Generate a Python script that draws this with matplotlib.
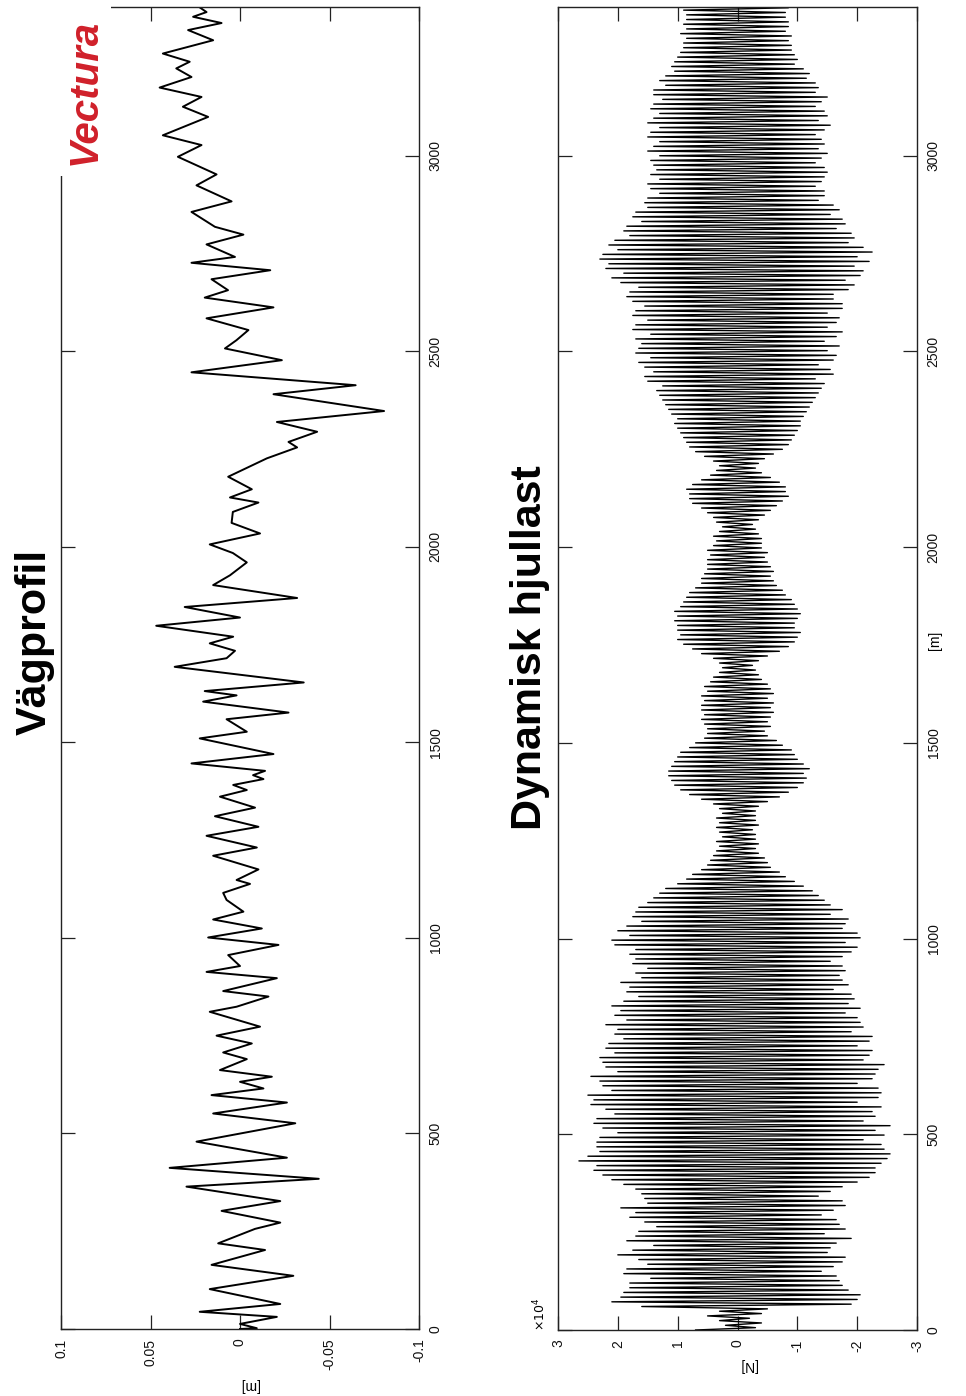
import numpy as np
import matplotlib
matplotlib.use("Agg")
import matplotlib.pyplot as plt
from matplotlib.patches import Rectangle

plt.rcParams['font.family'] = ['Liberation Sans', 'DejaVu Sans']
plt.rcParams['axes.unicode_minus'] = False

W, H = 966, 1396

# Road profile: (distance [m], height [m])
profile_dist = [0, 2, 13, 31, 44, 64, 102, 136, 164, 202, 219, 256, 272, 302, 327,
                364, 384, 412, 438, 479, 526, 551, 579, 598, 615, 632, 645, 662,
                690, 707, 730, 750, 773, 811, 824, 850, 864, 897, 913, 928, 956,
                982, 1001, 1024, 1047, 1067, 1097, 1115, 1138, 1148, 1175, 1210,
                1231, 1261, 1284, 1311, 1333, 1361, 1378, 1391, 1406, 1416, 1427,
                1446, 1470, 1510, 1527, 1559, 1576, 1604, 1620, 1631, 1653, 1693,
                1715, 1734, 1753, 1770, 1798, 1819, 1846, 1869, 1902, 1927, 1960,
                1984, 2006, 2034, 2061, 2089, 2113, 2126, 2147, 2179, 2226, 2254,
                2268, 2294, 2319, 2347, 2390, 2413, 2446, 2477, 2507, 2528, 2554,
                2584, 2612, 2637, 2656, 2684, 2707, 2726, 2741, 2773, 2798, 2818,
                2856, 2883, 2924, 2952, 2997, 3027, 3052, 3099, 3125, 3150, 3174,
                3201, 3223, 3240, 3261, 3295, 3321, 3339, 3355, 3367, 3379]
profile_height = [0.0, -0.0094, 0.0, -0.0206, 0.0225, -0.0225, 0.0169, -0.0298,
                  0.0159, -0.0140, 0.0122, -0.0084, -0.0225, 0.0103, -0.0225,
                  0.0299, -0.0440, 0.0393, -0.0262, 0.0243, -0.0309, 0.0150,
                  -0.0262, 0.0159, -0.0131, 0.0, -0.0178, 0.0112, -0.0038, 0.0094,
                  -0.0066, 0.0131, -0.0112, 0.0169, 0.0019, -0.0159, 0.0094,
                  -0.0206, 0.0187, 0.0, 0.0066, -0.0215, 0.0178, -0.0122, 0.0150,
                  -0.0019, 0.0075, 0.0094, -0.0056, 0.0019, -0.0103, 0.0150,
                  -0.0094, 0.0187, -0.0103, 0.0140, -0.0084, 0.0112, -0.0038,
                  0.0038, -0.0131, -0.0073, -0.0140, 0.0271, -0.0187, 0.0225,
                  -0.0038, 0.0075, -0.0271, 0.0206, 0.0019, 0.0197, -0.0356,
                  0.0365, 0.0075, 0.0028, 0.0169, 0.0038, 0.0468, 0.0, 0.0309,
                  -0.0319, 0.0150, 0.0056, -0.0038, 0.0040, 0.0169, -0.0112,
                  0.0047, 0.0040, -0.0103, 0.0056, -0.0066, 0.0066, -0.0150,
                  -0.0319, -0.0271, -0.0431, -0.0206, -0.0805, -0.0187, -0.0646,
                  0.0271, -0.0234, 0.0084, 0.0020, -0.0047, 0.0187, -0.0187,
                  0.0197, 0.0067, 0.0159, -0.0169, 0.0271, 0.0028, 0.0187,
                  -0.0019, 0.0140, 0.0271, 0.0047, 0.0243, 0.0131, 0.0347, 0.0215,
                  0.0431, 0.0178, 0.0319, 0.0215, 0.0449, 0.0271, 0.0356, 0.0281,
                  0.0431, 0.0150, 0.0290, 0.0103, 0.0262, 0.0187, 0.0225]

# Dynamic wheel load: successive extremes [x10^4 N], one every load_step_m metres
load_step_m = 6.0
load_peaks = [
    0.7, -0.3, 0.2, -0.4, 0.3, -0.2, 0.5, -0.4, 0.3, -0.5, 1.6, -1.9, 2.1, -2.0, 1.95, -2.05, 1.9, -1.85, 1.8, -1.75,
    1.8, -1.7, 1.45, -1.65, 1.9, -1.4, 1.85, -1.6, 1.5, -1.75, 1.65, -1.8, 2.0, -1.5, 1.75, -1.55, 1.4, -1.65, 1.85, -1.9,
    1.7, -1.45, 1.65, -1.8, 1.35, -1.7, 1.55, -1.65, 1.8, -1.4, 1.7, -1.6, 1.95, -1.8, 1.5, -1.75, 1.55, -1.35, 1.6, -1.55,
    1.7, -1.75, 1.9, -2.0, 2.1, -2.2, 2.25, -2.3, 2.4, -2.3, 2.35, -2.4, 2.65, -2.5, 2.5, -2.55, 2.3, -2.45, 2.35, -2.4,
    2.35, -2.1, 2.3, -2.45, 2.0, -2.3, 2.25, -2.55, 2.4, -2.1, 2.35, -2.3, 2.05, -2.25, 2.2, -2.4, 2.45, -2.0, 2.4, -2.35,
    2.5, -2.4, 2.1, -2.35, 2.25, -2.0, 2.3, -2.25, 2.45, -2.3, 2.0, -2.35, 2.2, -2.45, 2.25, -2.1, 2.3, -2.2, 2.05, -2.25,
    2.2, -2.0, 2.15, -2.2, 1.9, -2.25, 2.05, -1.9, 2.0, -2.1, 2.2, -2.05, 1.85, -2.0, 2.05, -1.8, 1.95, -2.05, 2.1, -1.85,
    1.9, -1.95, 1.65, -1.9, 1.85, -1.6, 1.8, -1.85, 1.95, -1.75, 1.6, -1.7, 1.7, -1.8, 1.5, -1.75, 1.75, -1.55, 1.7, -1.75,
    1.8, -1.9, 1.7, -2.0, 2.05, -1.8, 2.1, -2.05, 1.8, -2.0, 2.0, -1.75, 1.85, -1.8, 1.6, -1.85, 1.75, -1.55, 1.7, -1.75,
    1.65, -1.55, 1.5, -1.45, 1.4, -1.35, 1.3, -1.25, 1.2, -1.1, 1.0, -0.95, 0.85, -0.8, 0.75, -0.7, 0.6, -0.55, 0.5, -0.5,
    0.45, -0.45, 0.4, -0.35, 0.35, -0.3, 0.3, -0.35, 0.35, -0.3, 0.25, -0.3, 0.3, -0.25, 0.35, -0.35, 0.3, -0.3, 0.35, -0.3,
    0.25, -0.3, 0.3, -0.35, 0.4, -0.5, 0.6, -0.7, 0.8, -0.85, 0.95, -1.0, 1.05, -1.1, 1.1, -1.15, 1.15, -1.1, 1.15, -1.2,
    1.1, -1.1, 1.05, -1.0, 1.0, -0.95, 0.95, -0.9, 0.8, -0.75, 0.7, -0.65, 0.55, -0.5, 0.5, -0.45, 0.5, -0.55, 0.55, -0.5,
    0.6, -0.55, 0.55, -0.6, 0.6, -0.55, 0.6, -0.6, 0.55, -0.5, 0.6, -0.6, 0.5, -0.55, 0.55, -0.5, 0.45, -0.4, 0.4, -0.35,
    0.3, -0.3, 0.25, -0.25, 0.3, -0.35, 0.4, -0.5, 0.6, -0.7, 0.75, -0.85, 0.9, -0.95, 1.0, -1.0, 0.95, -1.05, 1.0, -0.95,
    1.0, -0.95, 1.05, -1.0, 1.0, -1.05, 1.05, -1.0, 0.95, -0.95, 0.9, -0.9, 0.85, -0.8, 0.8, -0.75, 0.7, -0.65, 0.6, -0.6,
    0.6, -0.55, 0.55, -0.6, 0.5, -0.55, 0.5, -0.5, 0.5, -0.45, 0.45, -0.5, 0.5, -0.4, 0.4, -0.4, 0.35, -0.4, 0.4, -0.35,
    0.3, -0.3, 0.25, -0.25, 0.35, -0.35, 0.4, -0.45, 0.5, -0.55, 0.6, -0.65, 0.75, -0.75, 0.8, -0.85, 0.8, -0.8, 0.85, -0.8,
    0.75, -0.7, 0.6, -0.55, 0.45, -0.4, 0.35, -0.3, 0.3, -0.35, 0.4, -0.45, 0.55, -0.6, 0.7, -0.75, 0.8, -0.85, 0.85, -0.9,
    0.9, -0.95, 0.95, -1.0, 1.0, -1.05, 1.05, -1.05, 1.0, -1.1, 1.1, -1.15, 1.15, -1.2, 1.2, -1.25, 1.25, -1.3, 1.3, -1.35,
    1.35, -1.4, 1.25, -1.45, 1.5, -1.3, 1.55, -1.6, 1.4, -1.55, 1.55, -1.35, 1.65, -1.6, 1.45, -1.65, 1.7, -1.5, 1.65, -1.7,
    1.6, -1.45, 1.7, -1.65, 1.45, -1.75, 1.75, -1.5, 1.7, -1.65, 1.5, -1.7, 1.75, -1.5, 1.7, -1.75, 1.55, -1.75, 1.75, -1.6,
    1.85, -1.6, 1.8, -1.85, 1.65, -1.95, 1.95, -1.8, 2.1, -2.05, 1.9, -2.1, 2.2, -1.95, 2.15, -2.2, 2.3, -2.0, 2.25, -2.25,
    2.0, -2.1, 2.15, -1.85, 2.05, -1.95, 1.8, -1.9, 1.9, -1.65, 1.85, -1.8, 1.6, -1.75, 1.75, -1.55, 1.7, -1.7, 1.5, -1.6,
    1.55, -1.35, 1.5, -1.45, 1.3, -1.45, 1.45, -1.3, 1.5, -1.4, 1.3, -1.45, 1.45, -1.5, 1.35, -1.45, 1.4, -1.3, 1.45, -1.4,
    1.3, -1.5, 1.5, -1.35, 1.4, -1.45, 1.3, -1.4, 1.5, -1.3, 1.45, -1.45, 1.3, -1.55, 1.5, -1.35, 1.4, -1.5, 1.3, -1.45,
    1.45, -1.3, 1.4, -1.4, 1.25, -1.5, 1.4, -1.3, 1.4, -1.35, 1.2, -1.3, 1.3, -1.15, 1.2, -1.2, 1.05, -1.1, 1.1, -0.95,
    1.05, -1.0, 1.0, -0.95, 0.95, -0.9, 0.9, -0.9, 0.9, -0.85, 0.85, -0.9, 0.95, -0.8, 0.85, -0.85, 0.9, -0.85, 0.85, -0.8,
    0.85, -0.8, 0.9, -0.85, 0.85,
]

dist_ticks = [0, 500, 1000, 1500, 2000, 2500, 3000]
profile_ticks = [0.1, 0.05, 0, -0.05, -0.1]
profile_tick_labels = ['0.1', '0.05', '0', '-0.05', '-0.1']
load_ticks = [3, 2, 1, 0, -1, -2, -3]
dist_max = 3380


def fx(px):
    return px / W


def fy(py):
    return 1 - py / H


def style_axes(ax):
    for s in ax.spines.values():
        s.set_linewidth(1.0)
        s.set_color('#222222')
    ax.tick_params(axis='both', direction='in', length=10, width=0.9,
                   labelsize=10, colors='#222222', labelcolor='#111111',
                   labelrotation=90, pad=7)
    ax.tick_params(axis='x', top=True, bottom=True)
    ax.tick_params(axis='y', left=True, right=True, labelleft=False, labelright=True)
    ax.set_ylim(0, dist_max)
    ax.set_yticks(dist_ticks)
    for lab in ax.get_yticklabels():
        lab.set_va('center')


fig = plt.figure(figsize=(W / 100, H / 100), dpi=100)

ax1 = fig.add_axes([fx(61), fy(1329), fx(419) - fx(61), fy(7) - fy(1329)])
ax1.plot(profile_height, profile_dist, color='black', lw=1.4)
ax1.set_xlim(0.1, -0.1)
ax1.set_xticks(profile_ticks)
ax1.set_xticklabels(profile_tick_labels)
style_axes(ax1)

ax2 = fig.add_axes([fx(558), fy(1330), fx(917) - fx(558), fy(7) - fy(1330)])
load_dist = np.arange(len(load_peaks)) * load_step_m
ax2.plot(load_peaks, load_dist, color='black', lw=1.0)
ax2.set_xlim(3, -3)
ax2.set_xticks(load_ticks)
ax2.set_xticklabels([str(t) for t in load_ticks])
style_axes(ax2)

# axis labels (picture is a rotated page)
fig.text(fx(249), fy(1385), '[m]', rotation=180, ha='center', va='center', fontsize=10)
fig.text(fx(748), fy(1365), '[N]', rotation=180, ha='center', va='center', fontsize=10)
fig.text(fx(935), fy(640), '[m]', rotation=90, ha='center', va='center', fontsize=10)
fig.text(fx(540), fy(1314), r'$\times10^{4}$', rotation=90, ha='center', va='center',
         fontsize=9)

# titles
fig.text(fx(35), fy(642), 'Vägprofil', rotation=90, ha='center', va='center',
         fontsize=31, fontweight='bold')
fig.text(fx(530), fy(648), 'Dynamisk hjullast', rotation=90, ha='center', va='center',
         fontsize=31, fontweight='bold')

# logo corner
fig.patches.append(Rectangle((fx(50), fy(176)), fx(111) - fx(50), fy(0) - fy(176),
                             transform=fig.transFigure, facecolor='white',
                             edgecolor='none', zorder=5))
fig.text(fx(85), fy(92), 'Vectura', rotation=90, ha='center', va='center',
         fontsize=29, fontweight='bold', fontstyle='italic', color='#d0202a',
         zorder=6)

fig.savefig('out.png', dpi=100)
